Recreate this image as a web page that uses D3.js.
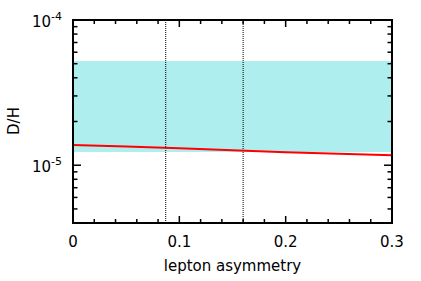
<!DOCTYPE html>
<html>
<head>
<meta charset="utf-8">
<script src="https://cdn.jsdelivr.net/npm/d3@7"></script>
<style>
body { margin: 0; background: #fff; }
text { font-family: "DejaVu Sans", sans-serif; fill: #000; }
</style>
</head>
<body>
<script>
// red curve: D/H vs lepton asymmetry
var lineX = [0, 0.05, 0.1, 0.15, 0.2, 0.25, 0.3];
var lineY = [1.38e-5, 1.345e-5, 1.31e-5, 1.27e-5, 1.23e-5, 1.20e-5, 1.17e-5];
// observed band (D/H range)
var bandLow = 1.233e-5;
var bandHigh = 5.22e-5;
// dotted vertical markers
var markers = [0.0872, 0.160];
var xTicks = [0, 0.1, 0.2, 0.3];
var xTickLabels = ["0", "0.1", "0.2", "0.3"];
var yMajor = [1e-5, 1e-4];

var width = 421, height = 281;
var margin = {left: 73, right: 29, top: 20, bottom: 58};

var svg = d3.select("body").append("svg").attr("width", width).attr("height", height);

var x = d3.scaleLinear().domain([0, 0.3]).range([margin.left, width - margin.right]);
var y = d3.scaleLog().domain([4e-6, 1e-4]).range([height - margin.bottom, margin.top]);

var x0 = x.range()[0], x1 = x.range()[1], y0 = y.range()[0], y1 = y.range()[1];

// band
svg.append("rect")
    .attr("x", x0).attr("width", x1 - x0)
    .attr("y", y(bandHigh)).attr("height", y(bandLow) - y(bandHigh))
    .attr("fill", "#afeeee");

// dotted lines
markers.forEach(function(m) {
  svg.append("line")
      .attr("x1", x(m)).attr("x2", x(m)).attr("y1", y1).attr("y2", y0)
      .attr("stroke", "#000").attr("stroke-width", 1).attr("stroke-dasharray", "1,1");
});

// red line
var pts = lineX.map(function(d, i) { return [d, lineY[i]]; });
var line = d3.line().x(function(d) { return x(d[0]); }).y(function(d) { return y(d[1]); });
svg.append("path").attr("d", line(pts)).attr("fill", "none").attr("stroke", "#ff0000").attr("stroke-width", 2);

// ticks (inward, all four sides)
var xMinor = d3.range(0, 0.3001, 0.02);
var yMinor = [];
[1e-6, 1e-5].forEach(function(dec) {
  for (var k = 2; k <= 9; k++) { var v = k * dec; if (v >= 4e-6 && v <= 1e-4) yMinor.push(v); }
});

var tk = svg.append("g").attr("stroke", "#000").attr("stroke-width", 1.5);
xMinor.forEach(function(v) {
  var major = xTicks.some(function(t) { return Math.abs(t - v) < 1e-6; });
  var len = major ? 7 : 4;
  tk.append("line").attr("x1", x(v)).attr("x2", x(v)).attr("y1", y0).attr("y2", y0 - len);
  tk.append("line").attr("x1", x(v)).attr("x2", x(v)).attr("y1", y1).attr("y2", y1 + len);
});
yMajor.concat(yMinor).forEach(function(v) {
  var len = yMajor.indexOf(v) >= 0 ? 8 : 4.5;
  tk.append("line").attr("x1", x0).attr("x2", x0 + len).attr("y1", y(v)).attr("y2", y(v));
  tk.append("line").attr("x1", x1).attr("x2", x1 - len).attr("y1", y(v)).attr("y2", y(v));
});

// frame
svg.append("rect")
    .attr("x", x0).attr("y", y1).attr("width", x1 - x0).attr("height", y0 - y1)
    .attr("fill", "none").attr("stroke", "#000").attr("stroke-width", 2);

// x tick labels
xTicks.forEach(function(t, i) {
  svg.append("text").attr("x", x(t)).attr("y", y0 + 24)
      .attr("text-anchor", "middle").attr("font-size", 15).text(xTickLabels[i]);
});

// y tick labels 10^-5, 10^-4
yMajor.forEach(function(v) {
  var e = Math.round(Math.log10(v));
  var t = svg.append("text").attr("x", x0 - 11).attr("y", y(v) + 7)
      .attr("text-anchor", "end").attr("font-size", 15);
  t.append("tspan").text("10");
  t.append("tspan").attr("dy", -7).attr("font-size", 11).text(String(e));
});

// axis titles
svg.append("text").attr("x", (x0 + x1) / 2).attr("y", y0 + 48)
    .attr("text-anchor", "middle").attr("font-size", 15).text("lepton asymmetry");
svg.append("text").attr("transform", "translate(19," + 121 + ") rotate(-90)")
    .attr("text-anchor", "middle").attr("font-size", 15).text("D/H");
</script>
</body>
</html>
